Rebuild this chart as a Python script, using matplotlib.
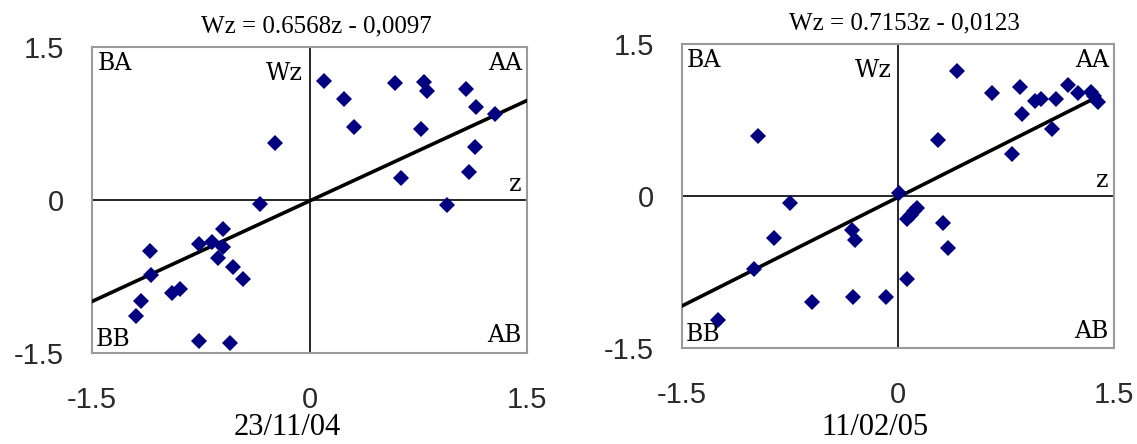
import matplotlib.pyplot as plt
import numpy as np

# 23/11/04
z_left = [0.10, 0.24, 0.31, 0.59, 0.79, 0.81, 1.08, 1.15, 1.28, 0.77, 1.14, 1.10, 0.63, 0.95,
          -0.24, -0.34, -0.60, -0.76, -0.67, -0.60, -0.63, -0.53, -0.46,
          -1.10, -1.09, -0.95, -0.89, -1.16, -1.20, -0.76, -0.55]
wz_left = [1.17, 0.99, 0.72, 1.15, 1.16, 1.07, 1.09, 0.91, 0.84, 0.70, 0.52, 0.27, 0.22, -0.05,
           0.56, -0.04, -0.28, -0.43, -0.41, -0.46, -0.57, -0.66, -0.77,
           -0.50, -0.74, -0.91, -0.87, -0.99, -1.14, -1.38, -1.40]

# 11/02/05
z_right = [0.41, 0.65, 0.85, 0.86, 0.95, 0.99, 1.10, 1.18, 1.25, 1.34, 1.36, 1.39, 1.07, 0.79,
           0.28, 0.01, 0.13, 0.11, 0.09, 0.06, 0.31, 0.35, 0.065, -0.085, -0.31, -0.60,
           -1.25, -1.00, -0.86, -0.75, -0.97, -0.32, -0.30]
wz_right = [1.23, 1.02, 1.08, 0.81, 0.94, 0.96, 0.96, 1.10, 1.02, 1.03, 0.99, 0.93, 0.66, 0.41,
            0.55, 0.03, -0.12, -0.15, -0.19, -0.23, -0.27, -0.51, -0.82, -1.00, -1.00, -1.05,
            -1.22, -0.72, -0.41, -0.07, 0.59, -0.34, -0.43]

slopes = [0.6568, 0.7153]
intercepts = [-0.0097, -0.0123]
titles = ['Wz = 0.6568z - 0,0097', 'Wz = 0.7153z - 0,0123']
dates = ['23/11/04', '11/02/05']
trend_ranges = [(-1.5, 1.5), (-1.5, 1.39)]
ticks = [-1.5, 0, 1.5]
tick_labels = ['-1.5', '0', '1.5']

fig = plt.figure(figsize=(11.37, 4.44), dpi=100)
rects = [[92 / 1137, 1 - 353 / 444, 435 / 1137, 306 / 444],
         [682 / 1137, 1 - 348 / 444, 432 / 1137, 304 / 444]]
date_x = [287 / 1137, 875 / 1137]

panels = [(z_left, wz_left), (z_right, wz_right)]
for i, (zs, ws) in enumerate(panels):
    ax = fig.add_axes(rects[i])
    ax.set_xlim(-1.5, 1.5)
    ax.set_ylim(-1.5, 1.5)
    for s in ax.spines.values():
        s.set_color('#9a9a9a')
        s.set_linewidth(1.5)

    ax.axhline(0, color='black', lw=1.2, zorder=2)
    ax.axvline(0, color='black', lw=1.2, zorder=2)
    # little axis end ticks
    ax.plot([-1.5, 1.5], [0, 0], ls='none', marker=3, ms=7, mew=1.2, color='black', clip_on=False)
    ax.plot([0, 0], [-1.5, 1.5], ls='none', marker=0, ms=3.5, mew=1.2, color='black', clip_on=False)

    tx = np.array(trend_ranges[i])
    ax.plot(tx, slopes[i] * tx + intercepts[i], color='black', lw=2.6, zorder=3)
    ax.plot(zs, ws, ls='none', marker='D', ms=8, color='#000080', mew=0, zorder=4)

    ax.set_xticks(ticks)
    ax.set_xticklabels(tick_labels)
    ax.set_yticks(ticks)
    ax.set_yticklabels(tick_labels)
    ax.tick_params(length=0, labelsize=21, labelcolor='#2a2a2a')
    ax.tick_params(axis='x', pad=24)
    ax.tick_params(axis='y', pad=20)
    for lab in ax.get_xticklabels() + ax.get_yticklabels():
        lab.set_fontfamily('Liberation Sans')

    q = dict(fontsize=17, family='DejaVu Serif', color='black', transform=ax.transAxes)
    ax.text(0.012, 0.985, 'BA', ha='left', va='top', **q)
    ax.text(0.988, 0.985, 'AA', ha='right', va='top', **q)
    ax.text(0.008, 0.008, 'BB', ha='left', va='bottom', **q)
    ax.text(0.988, 0.018, 'AB', ha='right', va='bottom', **q)
    ax.text(0.485, 0.95, 'Wz', ha='right', va='top', **q)
    ax.text(0.988, 0.53, 'z', ha='right', va='baseline', **q)

    ax.text(0.515, 1.03, titles[i], ha='center', va='bottom', fontsize=18,
            family='Liberation Serif', transform=ax.transAxes)
    fig.text(date_x[i], 1 - 427 / 444, dates[i], ha='center', va='center', fontsize=22,
             family='Liberation Serif')

fig.savefig('out.png', dpi=100)
